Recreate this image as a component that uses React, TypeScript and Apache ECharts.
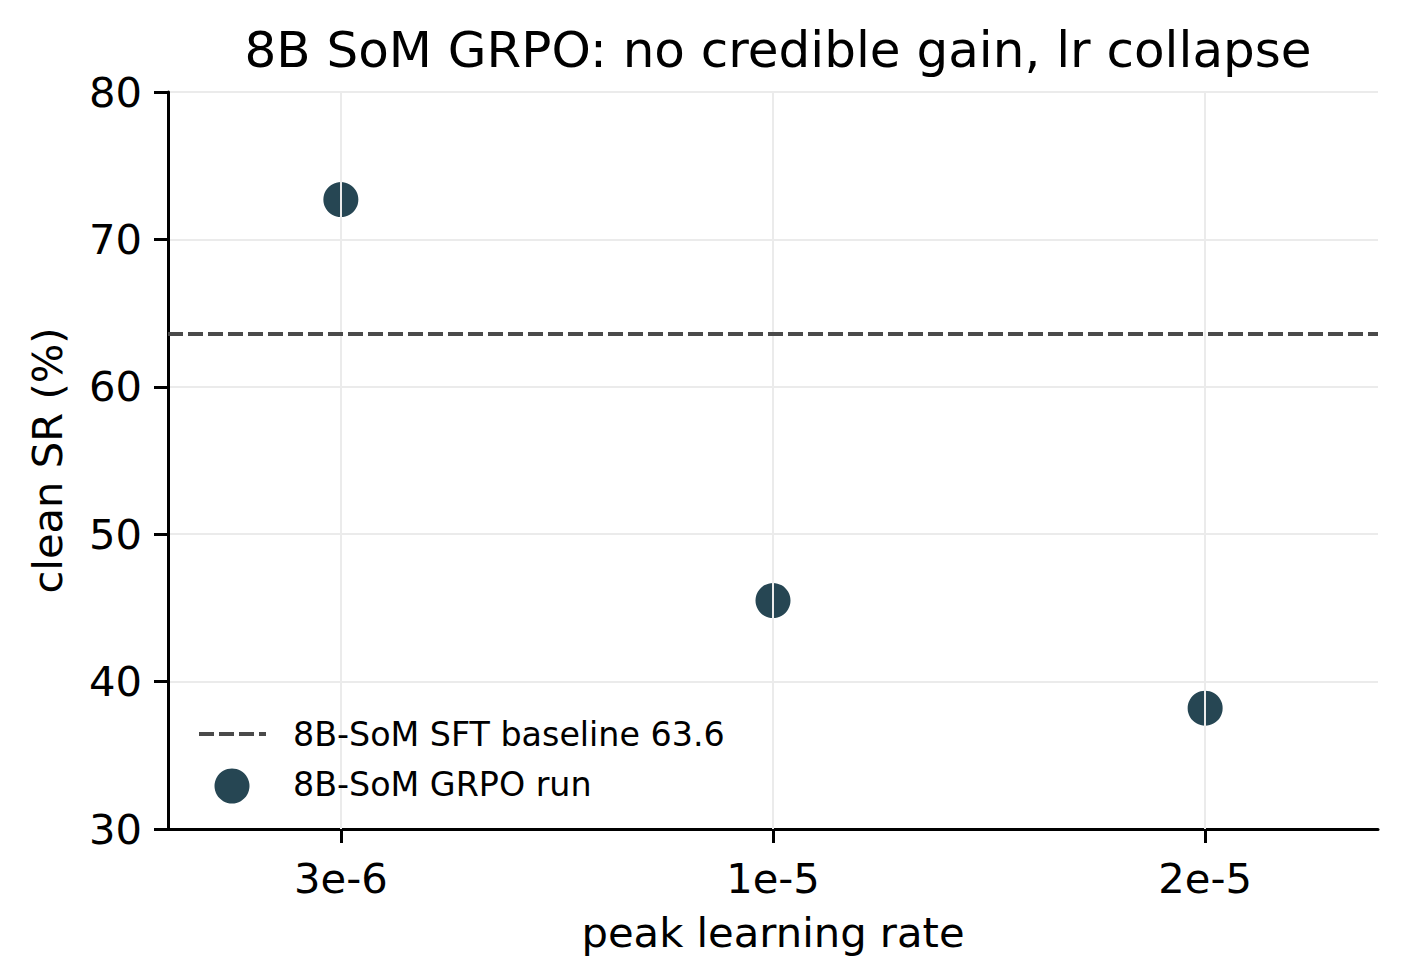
import React, { useEffect, useRef } from "react";
import * as echarts from "echarts";

const categories = ["3e-6", "1e-5", "2e-5"];
const grpoValues = [72.7, 45.5, 38.2];
const baselineValue = 63.6;
const yTicks = [30, 40, 50, 60, 70, 80];
const titleText = "8B SoM GRPO: no credible gain, lr collapse";
const baselineLabel = "8B-SoM SFT baseline 63.6";
const runLabel = "8B-SoM GRPO run";

const FONT = "DejaVu Sans";
const POINT_COLOR = "#264653";
const BASE_COLOR = "#4a4a4a";
const GRID_COLOR = "#ebebeb";
const LABEL_SIZE = 41.7;

export default function App() {
  const ref = useRef<HTMLDivElement>(null);
  useEffect(() => {
    if (!ref.current) return;
    const chart = echarts.init(ref.current, undefined, { renderer: "svg" });
    const idx = categories.map((_, i) => i);
    chart.setOption({
      animation: false,
      backgroundColor: "#ffffff",
      title: {
        text: titleText,
        left: 773,
        textAlign: "center",
        top: 20,
        textStyle: { fontFamily: FONT, fontSize: 50, fontWeight: "normal", color: "#000" },
      },
      grid: { left: 168, right: 30, top: 92, bottom: 125 },
      xAxis: {
        type: "value",
        min: -0.4,
        max: 2.4,
        name: "peak learning rate",
        nameLocation: "middle",
        nameGap: 82,
        nameTextStyle: { fontFamily: FONT, fontSize: LABEL_SIZE, color: "#000" },
        axisLine: { show: true, onZero: false, lineStyle: { color: "#000", width: 3 } },
        axisTick: { show: true, customValues: idx, length: 14, lineStyle: { color: "#000", width: 3 } },
        axisLabel: {
          customValues: idx,
          margin: 28,
          fontFamily: FONT,
          fontSize: LABEL_SIZE,
          color: "#000",
          formatter: (v: number) => categories[Math.round(v)] ?? "",
        },
        splitLine: { show: false },
      },
      yAxis: {
        type: "value",
        min: yTicks[0],
        max: yTicks[yTicks.length - 1],
        interval: 10,
        name: "clean SR (%)",
        nameLocation: "middle",
        nameGap: 100,
        nameTextStyle: { fontFamily: FONT, fontSize: LABEL_SIZE, color: "#000" },
        axisLine: { show: true, onZero: false, lineStyle: { color: "#000", width: 3 } },
        axisTick: { show: true, length: 14, lineStyle: { color: "#000", width: 3 } },
        axisLabel: { margin: 26, fontFamily: FONT, fontSize: LABEL_SIZE, color: "#000" },
        splitLine: { show: true, lineStyle: { color: GRID_COLOR, width: 2 } },
      },
      series: [
        {
          type: "scatter",
          name: "grid",
          data: [],
          z: 1,
          silent: true,
          markLine: {
            symbol: "none",
            silent: true,
            label: { show: false },
            lineStyle: { color: GRID_COLOR, width: 2, type: "solid" },
            data: idx.map((i) => ({ xAxis: i })),
          },
        },
        {
          type: "scatter",
          name: baselineLabel,
          data: [],
          z: 2,
          markLine: {
            symbol: "none",
            silent: true,
            label: { show: false },
            lineStyle: { color: BASE_COLOR, width: 4, type: [15, 5] },
            data: [{ yAxis: baselineValue }],
          },
        },
        {
          type: "scatter",
          name: runLabel,
          z: 3,
          symbol: "circle",
          symbolSize: 35,
          itemStyle: { color: POINT_COLOR, opacity: 1 },
          data: grpoValues.map((v, i) => [i, v]),
        },
      ],
      graphic: [
        {
          type: "line",
          shape: { x1: 199, y1: 734, x2: 266, y2: 734 },
          style: { stroke: BASE_COLOR, lineWidth: 4, lineDash: [15, 5] },
          z: 10,
        },
        {
          type: "circle",
          shape: { cx: 232, cy: 786, r: 17.5 },
          style: { fill: POINT_COLOR },
          z: 10,
        },
        {
          type: "text",
          x: 293,
          y: 734,
          style: { text: baselineLabel, fontFamily: FONT, fontSize: 33.3, fill: "#000", verticalAlign: "middle" },
          z: 10,
        },
        {
          type: "text",
          x: 293,
          y: 784,
          style: { text: runLabel, fontFamily: FONT, fontSize: 33.3, fill: "#000", verticalAlign: "middle" },
          z: 10,
        },
      ],
    });
    return () => chart.dispose();
  }, []);
  return (
    <div
      ref={ref}
      style={{ position: "fixed", left: 0, top: 0, width: 1408, height: 958, background: "#fff" }}
    />
  );
}
